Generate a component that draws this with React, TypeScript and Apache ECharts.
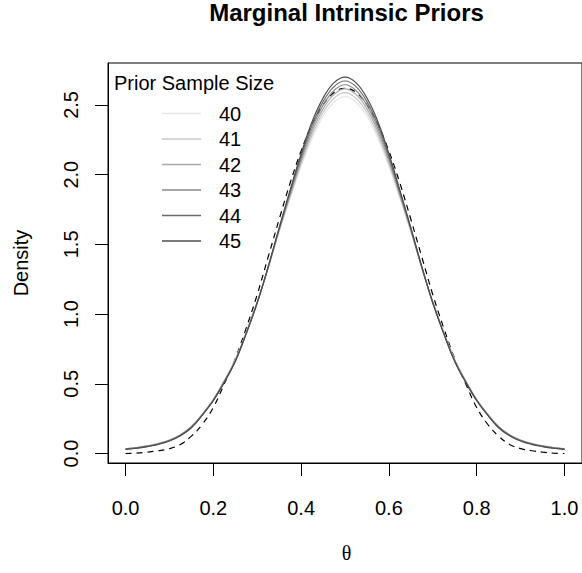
import React, { useEffect, useRef } from "react";
import * as echarts from "echarts";

const thetaValues = [
  0, 0.025, 0.05, 0.075, 0.1, 0.125, 0.15, 0.175, 0.2, 0.225, 0.25, 0.275, 0.3, 0.325, 0.35, 0.375, 0.4, 0.425, 0.45, 0.475, 0.5,
  0.525, 0.55, 0.575, 0.6, 0.625, 0.65, 0.675, 0.7, 0.725, 0.75, 0.775, 0.8, 0.825, 0.85, 0.875, 0.9, 0.925, 0.95, 0.975, 1.0,
];

// dashed reference density
const referenceDensity = [
  0.0, 0.003, 0.01, 0.02, 0.035, 0.065, 0.125, 0.21, 0.33, 0.5, 0.68, 0.9, 1.14, 1.41, 1.68, 1.94, 2.17, 2.36, 2.5, 2.59, 2.62,
  2.59, 2.5, 2.36, 2.17, 1.94, 1.68, 1.41, 1.14, 0.9, 0.68, 0.5, 0.33, 0.21, 0.125, 0.065, 0.035, 0.02, 0.01, 0.003, 0.0,
];

const sampleSizes = ["40", "41", "42", "43", "44", "45"];
const density40 = [
  0.035, 0.044, 0.057, 0.074, 0.099, 0.137, 0.196, 0.285, 0.39, 0.525, 0.675, 0.87, 1.09, 1.33, 1.59, 1.83, 2.06, 2.26, 2.42, 2.52, 2.56,
  2.52, 2.42, 2.26, 2.06, 1.83, 1.59, 1.33, 1.09, 0.87, 0.675, 0.525, 0.39, 0.285, 0.196, 0.137, 0.099, 0.074, 0.057, 0.044, 0.035,
];
const density41 = [
  0.034, 0.043, 0.056, 0.072, 0.097, 0.135, 0.194, 0.283, 0.387, 0.522, 0.672, 0.868, 1.088, 1.332, 1.596, 1.842, 2.078, 2.284, 2.446, 2.548, 2.588,
  2.548, 2.446, 2.284, 2.078, 1.842, 1.596, 1.332, 1.088, 0.868, 0.672, 0.522, 0.387, 0.283, 0.194, 0.135, 0.097, 0.072, 0.056, 0.043, 0.034,
];
const density42 = [
  0.033, 0.042, 0.054, 0.071, 0.095, 0.133, 0.192, 0.281, 0.385, 0.519, 0.669, 0.866, 1.086, 1.334, 1.602, 1.854, 2.096, 2.308, 2.472, 2.576, 2.616,
  2.576, 2.472, 2.308, 2.096, 1.854, 1.602, 1.334, 1.086, 0.866, 0.669, 0.519, 0.385, 0.281, 0.192, 0.133, 0.095, 0.071, 0.054, 0.042, 0.033,
];
const density43 = [
  0.032, 0.041, 0.053, 0.069, 0.094, 0.131, 0.19, 0.279, 0.383, 0.516, 0.666, 0.864, 1.084, 1.336, 1.608, 1.866, 2.114, 2.332, 2.498, 2.604, 2.645,
  2.604, 2.498, 2.332, 2.114, 1.866, 1.608, 1.336, 1.084, 0.864, 0.666, 0.516, 0.383, 0.279, 0.19, 0.131, 0.094, 0.069, 0.053, 0.041, 0.032,
];
const density44 = [
  0.031, 0.039, 0.051, 0.068, 0.092, 0.129, 0.187, 0.277, 0.381, 0.513, 0.663, 0.862, 1.082, 1.338, 1.614, 1.878, 2.132, 2.356, 2.524, 2.632, 2.672,
  2.632, 2.524, 2.356, 2.132, 1.878, 1.614, 1.338, 1.082, 0.862, 0.663, 0.513, 0.381, 0.277, 0.187, 0.129, 0.092, 0.068, 0.051, 0.039, 0.031,
];
const density45 = [
  0.03, 0.038, 0.05, 0.066, 0.09, 0.127, 0.185, 0.275, 0.38, 0.51, 0.66, 0.86, 1.08, 1.34, 1.62, 1.89, 2.15, 2.38, 2.55, 2.66, 2.7,
  2.66, 2.55, 2.38, 2.15, 1.89, 1.62, 1.34, 1.08, 0.86, 0.66, 0.51, 0.38, 0.275, 0.185, 0.127, 0.09, 0.066, 0.05, 0.038, 0.03,
];
const sampleDensities = [density40, density41, density42, density43, density44, density45];
const sampleColors = ["#E6E6E6", "#C7C7C7", "#A8A8A8", "#8A8A8A", "#6B6B6B", "#4D4D4D"];

const xTicks = [0, 0.2, 0.4, 0.6, 0.8, 1.0];
const yTicks = [0, 0.5, 1.0, 1.5, 2.0, 2.5];

const FONT = "'Liberation Sans', Arial, Helvetica, sans-serif";

export default function App() {
  const ref = useRef<HTMLDivElement>(null);
  useEffect(() => {
    document.body.style.margin = "0";
    if (!ref.current) return;
    const chart = echarts.init(ref.current, null, { renderer: "svg" });
    const pairs = (ys: number[]) => thetaValues.map((x, i) => [x, ys[i]]);
    const series: any[] = [
      {
        name: "reference",
        type: "line",
        data: pairs(referenceDensity),
        smooth: 0.4,
        symbol: "none",
        lineStyle: { color: "#000", width: 1.2, type: [6, 5] },
        z: 2,
      },
      ...sampleSizes.map((name, i) => ({
        name,
        type: "line",
        data: pairs(sampleDensities[i]),
        smooth: 0.4,
        symbol: "none",
        itemStyle: { color: sampleColors[i] },
        lineStyle: { color: sampleColors[i], width: 1.2 },
        z: 3 + i,
      })),
    ];
    chart.setOption({
      animation: false,
      grid: {
        left: 108,
        top: 63,
        width: 477,
        height: 400,
        show: true,
        borderColor: "#000",
        borderWidth: 1,
        containLabel: false,
      },
      xAxis: {
        type: "value",
        min: -0.04,
        max: 1.04,
        axisLine: { show: true, onZero: false, lineStyle: { color: "#000", width: 1 } },
        splitLine: { show: false },
        axisTick: { show: true, length: 13, customValues: xTicks, lineStyle: { color: "#000", width: 1 } },
        axisLabel: {
          customValues: xTicks,
          formatter: (v: number) => v.toFixed(1),
          fontSize: 20,
          color: "#000",
          margin: 35,
          fontFamily: FONT,
        },
      },
      yAxis: {
        type: "value",
        min: -0.068,
        max: 2.801,
        axisLine: { show: true, onZero: false, lineStyle: { color: "#000", width: 1 } },
        splitLine: { show: false },
        axisTick: { show: true, length: 13, customValues: yTicks, lineStyle: { color: "#000", width: 1 } },
        axisLabel: {
          customValues: yTicks,
          formatter: (v: number) => v.toFixed(1),
          fontSize: 20,
          color: "#000",
          rotate: 90,
          margin: 27,
          fontFamily: FONT,
        },
      },
      legend: {
        orient: "vertical",
        left: 162,
        top: 103.5,
        padding: 0,
        icon: "rect",
        itemWidth: 39,
        itemHeight: 1.5,
        itemGap: 5.5,
        data: sampleSizes,
        textStyle: { fontSize: 20, color: "#000", lineHeight: 20, padding: [0, 0, 0, 13], fontFamily: FONT },
      },
      graphic: [
        {
          type: "text",
          x: 346.5,
          y: 12.5,
          style: { text: "Marginal Intrinsic Priors", font: `bold 24px ${FONT}`, fill: "#000", align: "center", verticalAlign: "middle" },
        },
        {
          type: "text",
          x: 114,
          y: 82.5,
          style: { text: "Prior Sample Size", font: `20px ${FONT}`, fill: "#000", align: "left", verticalAlign: "middle" },
        },
        {
          type: "text",
          x: 21,
          y: 263,
          rotation: Math.PI / 2,
          style: { text: "Density", font: `20px ${FONT}`, fill: "#000", align: "center", verticalAlign: "middle" },
        },
        {
          type: "text",
          x: 346.5,
          y: 553,
          style: { text: "θ", font: `20px 'Liberation Serif', 'DejaVu Serif', serif`, fill: "#000", align: "center", verticalAlign: "middle" },
        },
      ],
      series,
    });
    return () => chart.dispose();
  }, []);
  return <div ref={ref} style={{ width: 582, height: 573 }} />;
}
